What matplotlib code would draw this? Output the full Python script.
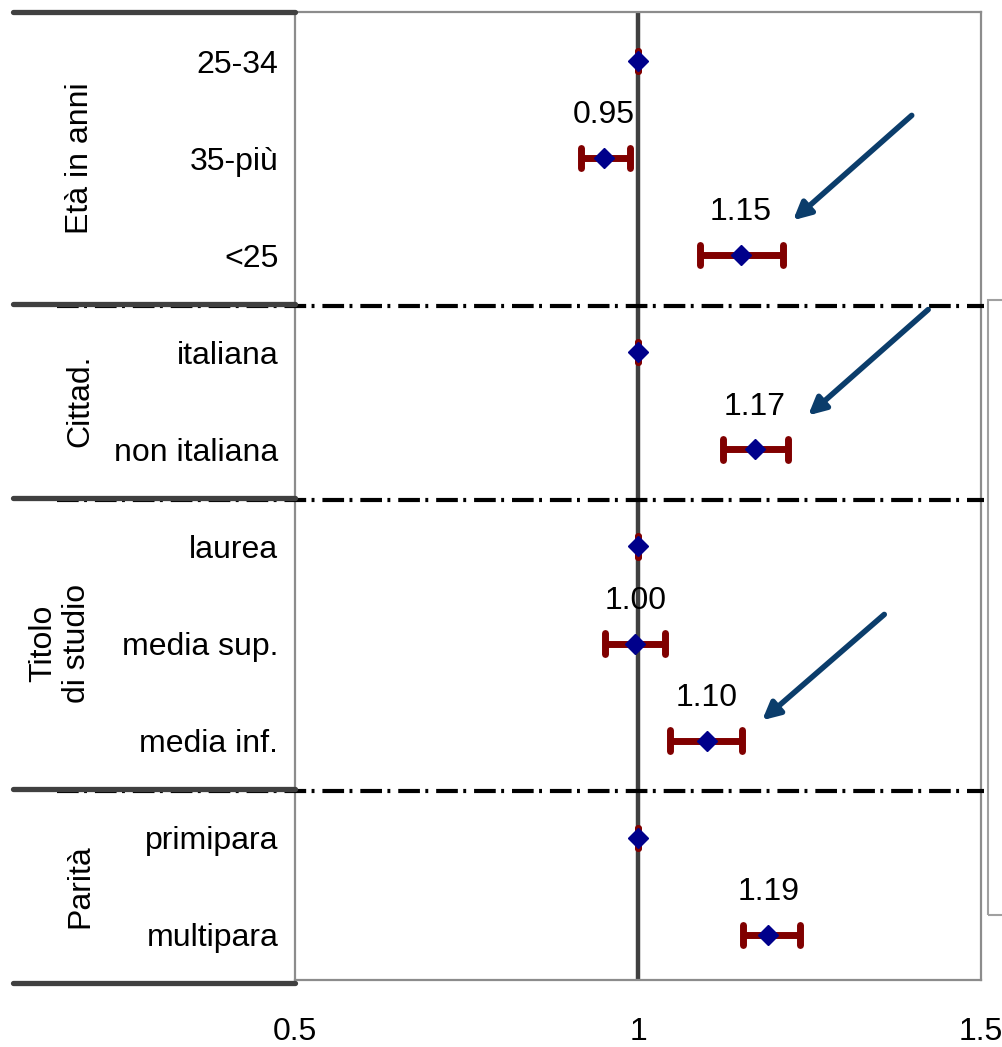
import matplotlib
matplotlib.use("Agg")
import matplotlib.pyplot as plt
from matplotlib.patches import Rectangle
from matplotlib.lines import Line2D

# ---- data ----
rows = ['25-34', '35-più', '<25', 'italiana', 'non italiana',
        'laurea', 'media sup.', 'media inf.', 'primipara', 'multipara']
or_vals = [1.0, 0.95, 1.15, 1.0, 1.17, 1.0, 0.996, 1.10, 1.0, 1.19]
ci_low = [1.0, 0.917, 1.090, 1.0, 1.124, 1.0, 0.952, 1.047, 1.0, 1.153]
ci_high = [1.0, 0.988, 1.211, 1.0, 1.219, 1.0, 1.039, 1.152, 1.0, 1.236]
value_labels = ['', '0.95', '1.15', '', '1.17', '', '1.00', '1.10', '', '1.19']
groups = ['Età in anni', 'Cittad.', 'Titolo\ndi studio', 'Parità']
group_sizes = [3, 2, 3, 2]
xticks = [0.5, 1.0, 1.5]
xtick_labels = ['0.5', '1', '1.5']
# annotation arrows: (tail x, tail row, head x, head row)
arrows = [(1.399, 0.56, 1.226, 1.64),
          (1.423, 2.56, 1.248, 3.65),
          (1.359, 5.70, 1.181, 6.79)]

plt.rcParams['font.family'] = ['Liberation Sans', 'DejaVu Sans']
FS = 23

fig = plt.figure(figsize=(10.02, 10.47), dpi=100)
ax = fig.add_axes([295/1002, 1-980/1047, 686/1002, 968/1047])

ypos = list(range(len(rows)))
ax.set_xlim(0.5, 1.5)
ax.set_ylim(9.465, -0.505)

# vertical reference line
ax.axvline(1.0, color='#404040', lw=3.2, zorder=2)

red = '#800000'
capd = 0.105
for y, v, lo, hi in zip(ypos, or_vals, ci_low, ci_high):
    ax.plot([lo, hi], [y, y], color=red, lw=5, solid_capstyle='butt', zorder=3)
    for xc in (lo, hi):
        ax.plot([xc, xc], [y - capd, y + capd], color=red, lw=5,
                solid_capstyle='round', zorder=3)
ax.plot(or_vals, ypos, linestyle='none', marker='D', color='#00008B',
        markersize=10, zorder=4)

for y, v, t in zip(ypos, or_vals, value_labels):
    if t:
        ax.text(v, y - 0.44, t, ha='center', va='center', fontsize=FS,
                color='black', zorder=5)

# axis styling
ax.set_yticks(ypos)
ax.set_yticklabels(rows, fontsize=FS)
ax.set_xticks(xticks)
ax.set_xticklabels(xtick_labels, fontsize=FS)
ax.tick_params(axis='both', length=0)
ax.tick_params(axis='y', pad=12)
ax.tick_params(axis='x', pad=27)
for s in ax.spines.values():
    s.set_color('#8c8c8c')
    s.set_linewidth(1.6)

# group separators
bounds = [-0.5]
acc = -0.5
for n in group_sizes:
    acc += n
    bounds.append(acc)
trans = ax.get_yaxis_transform()
x_left = (13 - 295) / 686
for b in bounds:
    ax.add_line(Line2D([x_left, 0], [b, b], transform=trans, color='#404040',
                       lw=3.8, clip_on=False, solid_capstyle='round', zorder=6))
for b in bounds[1:-1]:
    ax.add_line(Line2D([(57-295)/686, (984-295)/686], [b + 0.02, b + 0.02],
                       transform=trans, color='black', lw=3,
                       linestyle=(0, (5.2, 1.3, 0.7, 1.9)), clip_on=False, zorder=5))

# group labels
start = 0
for name, n in zip(groups, group_sizes):
    mid = start + (n - 1) / 2
    xpix = 60 if '\n' in name else 80
    ax.text((xpix - 295) / 686, mid, name, transform=trans, rotation=90,
            ha='center', va='center', fontsize=FS, linespacing=1.15)
    start += n

# arrows
for tx, ty, hx, hy in arrows:
    ax.annotate('', xy=(hx, hy), xytext=(tx, ty),
                arrowprops=dict(arrowstyle='-|>', color='#0B3D6B', lw=4,
                                mutation_scale=26, shrinkA=0, shrinkB=0),
                annotation_clip=False, zorder=6)

# empty legend box at right
fig.patches.append(Rectangle((988/1002, 1-915/1047), 0.05, 615/1047,
                             transform=fig.transFigure, fill=False,
                             edgecolor='#a0a0a0', lw=1.5))

fig.savefig('out.png', dpi=100)
